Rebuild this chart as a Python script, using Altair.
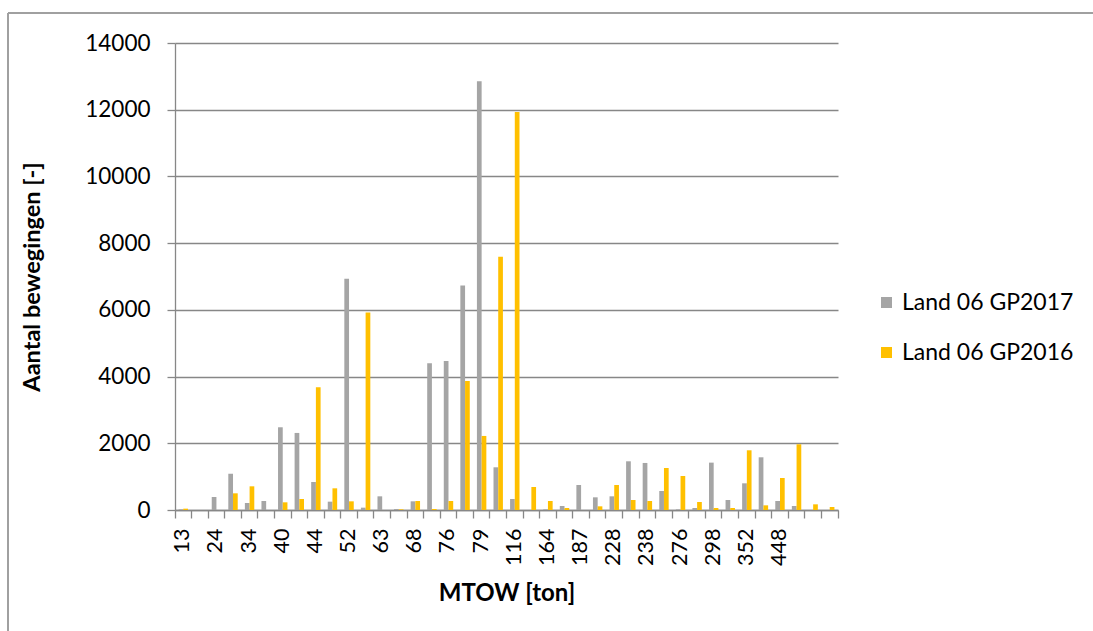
import json
import altair as alt
import pandas as pd

# Category axis labels (only every other category is labelled in the source)
tick_labels = ["13", "", "24", "", "34", "", "40", "", "44", "",
               "52", "", "63", "", "68", "", "76", "", "79", "",
               "116", "", "164", "", "187", "", "228", "", "238", "",
               "276", "", "298", "", "352", "", "448", "", "", ""]

gp2017 = [20, 0, 390, 1090, 210, 270, 2480, 2310, 840, 250,
          6930, 70, 410, 30, 260, 4400, 4470, 6730, 12850, 1280,
          330, 0, 20, 120, 750, 380, 410, 1460, 1410, 570,
          20, 60, 1420, 300, 800, 1580, 270, 120, 0, 0]

gp2016 = [40, 0, 0, 500, 710, 0, 230, 330, 3680, 650,
          260, 5920, 0, 20, 270, 30, 270, 3870, 2220, 7590,
          11930, 690, 270, 60, 0, 110, 750, 300, 270, 1260,
          1020, 240, 60, 60, 1790, 140, 960, 1970, 170, 90]

series_names = ["Land 06 GP2017", "Land 06 GP2016"]
series_colors = ["#A5A5A5", "#FFC000"]

rows = []
for i in range(len(tick_labels)):
    rows.append({"idx": i, "series": series_names[0], "value": gp2017[i]})
    rows.append({"idx": i, "series": series_names[1], "value": gp2016[i]})
df = pd.DataFrame(rows)

FONT = "Lato"
GRID = "#878787"
W, H = 663, 467
LEFT, TOP = 175, 43
label_expr = json.dumps(tick_labels) + "[datum.value]"

bars = alt.Chart(df).mark_bar().encode(
    x=alt.X("idx:O",
            scale=alt.Scale(paddingInner=0, paddingOuter=0),
            axis=alt.Axis(title="MTOW [ton]", labelExpr=label_expr,
                          labelAngle=270, labelOverlap=False,
                          labelFont=FONT, labelFontSize=21.5, labelColor="#000000",
                          labelPadding=10, tickSize=8, tickColor=GRID, tickWidth=1.3,
                          bandPosition=1, tickExtra=True,
                          domainColor=GRID, domainWidth=1.3,
                          titleFont=FONT, titleFontSize=24, titleFontWeight="bold",
                          titleColor="#000000", titleX=W / 2, titleY=83,
                          titleBaseline="middle", titleAlign="center")),
    xOffset=alt.XOffset("series:N", sort=series_names,
                        scale=alt.Scale(paddingInner=0, paddingOuter=0.76)),
    y=alt.Y("value:Q",
            scale=alt.Scale(domain=[0, 14000], nice=False),
            axis=alt.Axis(title="Aantal bewegingen [-]", values=list(range(0, 14001, 2000)),
                          format="d",
                          labelFont=FONT, labelFontSize=22.5, labelColor="#000000",
                          labelPadding=17, tickSize=8, tickColor=GRID, tickWidth=1.3,
                          domainColor=GRID, domainWidth=1.3,
                          gridColor=GRID, gridWidth=1.3,
                          titleFont=FONT, titleFontSize=23.5, titleFontWeight="bold",
                          titleColor="#000000", titleX=-143, titleY=H / 2,
                          titleBaseline="middle", titleAlign="center", titleAngle=270)),
    color=alt.Color("series:N", sort=series_names,
                    scale=alt.Scale(domain=series_names, range=series_colors),
                    legend=alt.Legend(title=None, orient="none", legendX=700, legendY=248,
                                      padding=0, labelLimit=0,
                                      symbolType="square", symbolSize=121,
                                      symbolStrokeWidth=0, symbolOpacity=1,
                                      labelFont=FONT, labelFontSize=23, labelColor="#000000",
                                      labelOffset=4, rowPadding=26)),
)

border_top = alt.Chart(df).mark_rule(color="#A0A0A0", strokeWidth=1.5).encode(
    x=alt.value(8 - LEFT), x2=alt.value(1093 - LEFT), y=alt.value(13 - TOP))
border_left = alt.Chart(df).mark_rule(color="#A0A0A0", strokeWidth=1.5).encode(
    x=alt.value(8 - LEFT), y=alt.value(13 - TOP), y2=alt.value(631 - TOP))

chart = alt.layer(bars, border_top, border_left).properties(
    width=W, height=H,
    autosize=alt.AutoSizeParams(type="none"),
    padding={"left": LEFT, "top": TOP, "right": 1093 - LEFT - W, "bottom": 631 - TOP - H},
    background="white",
).configure_view(stroke=None)

chart.save("out.html", embed_options={"renderer": "svg", "actions": False})
